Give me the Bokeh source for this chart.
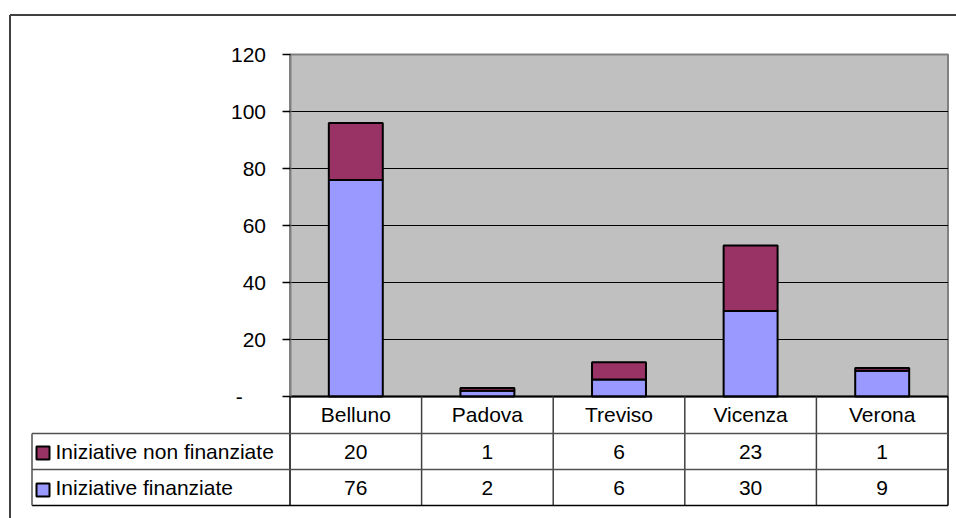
from bokeh.plotting import figure
from bokeh.models import Range1d, LinearAxis, FixedTicker, ColumnDataSource
from bokeh.core.properties import value
from bokeh.embed import file_html
from bokeh.resources import INLINE

# --- data -------------------------------------------------------------------
categories = ["Belluno", "Padova", "Treviso", "Vicenza", "Verona"]
finanziate = [76, 2, 6, 30, 9]
non_finanziate = [20, 1, 6, 23, 1]
series_names = ["Iniziative non finanziate", "Iniziative finanziate"]
y_ticks = [0, 20, 40, 60, 80, 100, 120]

# --- layout (pixels) --------------------------------------------------------
W, H = 956, 518
PLOT_L, PLOT_R = 289.5, 947.5
PLOT_T, PLOT_B = 54.0, 396.0
ROW_EDGES = [396, 433, 469, 505]          # header / row 1 / row 2 boundaries
ROW_MID = [414, 451, 487]                  # text centre of each table row
LEG_L = 31.5                               # left edge of the legend column
FRAME_X, FRAME_Y = 9.5, 14.5               # outer chart border
FONT = value("Liberation Sans")
FS = "21px"
BLUE, PLUM = "#9999FF", "#993366"

n = len(categories)
y_max = y_ticks[-1]
cat_px = (PLOT_R - PLOT_L) / n
val_px = (PLOT_B - PLOT_T) / y_max

p = figure(
    width=W, height=H,
    x_range=Range1d(-PLOT_L / cat_px, (W - PLOT_L) / cat_px),
    y_range=Range1d(-(H - PLOT_B) / val_px, PLOT_B / val_px),
    x_axis_location=None, y_axis_location=None,
    toolbar_location=None, output_backend="svg",
    min_border=0, outline_line_color=None,
    background_fill_color="white", border_fill_color="white",
)
p.xgrid.visible = False
p.ygrid.visible = False
p.extra_x_ranges = {"px": Range1d(0, W)}
p.extra_y_ranges = {"px": Range1d(H, 0)}

# outer chart border
p.segment(x0=[FRAME_X, FRAME_X], y0=[FRAME_Y, FRAME_Y], x1=[W, FRAME_X], y1=[FRAME_Y, H],
          line_color="#404040", line_width=2, x_range_name="px", y_range_name="px")

# plot area
p.quad(left=0, right=n, bottom=0, top=y_max, fill_color="#C0C0C0",
       line_color="#808080", line_width=2)

# horizontal grid lines
inner = y_ticks[1:-1]
p.segment(x0=[0] * len(inner), x1=[n] * len(inner), y0=inner, y1=inner,
          line_color="black", line_width=1)

# stacked bars
src = ColumnDataSource(dict(
    x=[i + 0.5 for i in range(n)],
    fin=finanziate,
    non=non_finanziate,
))
p.vbar_stack(["fin", "non"], x="x", width=0.41, source=src,
             fill_color=[BLUE, PLUM], line_color="black", line_width=2)

# category axis baseline
p.segment(x0=[0], x1=[n], y0=[0], y1=[0], line_color="black", line_width=2)

# data table: vertical separators at category boundaries
p.segment(x0=list(range(1, n)), x1=list(range(1, n)),
          y0=[ROW_EDGES[0]] * (n - 1), y1=[ROW_EDGES[-1]] * (n - 1),
          line_color="#404040", line_width=1.5, y_range_name="px")
p.segment(x0=[0, n], x1=[0, n], y0=[ROW_EDGES[0]] * 2, y1=[ROW_EDGES[-1]] * 2,
          line_color="black", line_width=1.5, y_range_name="px")
# row separators and legend column border
p.segment(x0=[LEG_L, LEG_L], x1=[PLOT_R, PLOT_R], y0=ROW_EDGES[1:3], y1=ROW_EDGES[1:3],
          line_color="#505050", line_width=1.5, x_range_name="px", y_range_name="px")
p.segment(x0=[LEG_L], x1=[PLOT_R], y0=[ROW_EDGES[3]], y1=[ROW_EDGES[3]],
          line_color="black", line_width=1.5, x_range_name="px", y_range_name="px")
p.segment(x0=[LEG_L], x1=[LEG_L], y0=[ROW_EDGES[1]], y1=[ROW_EDGES[3]],
          line_color="#505050", line_width=1.5, x_range_name="px", y_range_name="px")

# table texts
xs = [i + 0.5 for i in range(n)]
text_kw = dict(text_font=FONT, text_font_size=FS, text_color="black",
               text_baseline="middle", y_range_name="px")
p.text(x=xs, y=[ROW_MID[0]] * n, text=categories, text_align="center", **text_kw)
p.text(x=xs, y=[ROW_MID[1]] * n, text=[str(v) for v in non_finanziate], text_align="center", **text_kw)
p.text(x=xs, y=[ROW_MID[2]] * n, text=[str(v) for v in finanziate], text_align="center", **text_kw)

# legend keys in the table
p.scatter(x=[42.5, 42.5], y=[452.5, 489.5], marker="square", size=13,
          fill_color=[PLUM, BLUE], line_color="black", line_width=2,
          x_range_name="px", y_range_name="px")
p.text(x=[55, 55], y=ROW_MID[1:], text=series_names, text_align="left",
       x_range_name="px", **text_kw)

# value axis
yaxis = LinearAxis(
    fixed_location=0, ticker=FixedTicker(ticks=y_ticks), bounds=(0, y_max),
    major_label_overrides={0: "-" + "\u00a0" * 4},
    axis_line_color="#808080", axis_line_width=2,
    major_tick_out=8, major_tick_in=0,
    major_tick_line_color="black", major_tick_line_width=1.5,
    minor_tick_line_color=None, major_label_standoff=16,
    major_label_text_font="Liberation Sans", major_label_text_font_size=FS,
    major_label_text_color="black",
)
p.add_layout(yaxis, "left")

open("out.html", "w").write(file_html(p, INLINE))
